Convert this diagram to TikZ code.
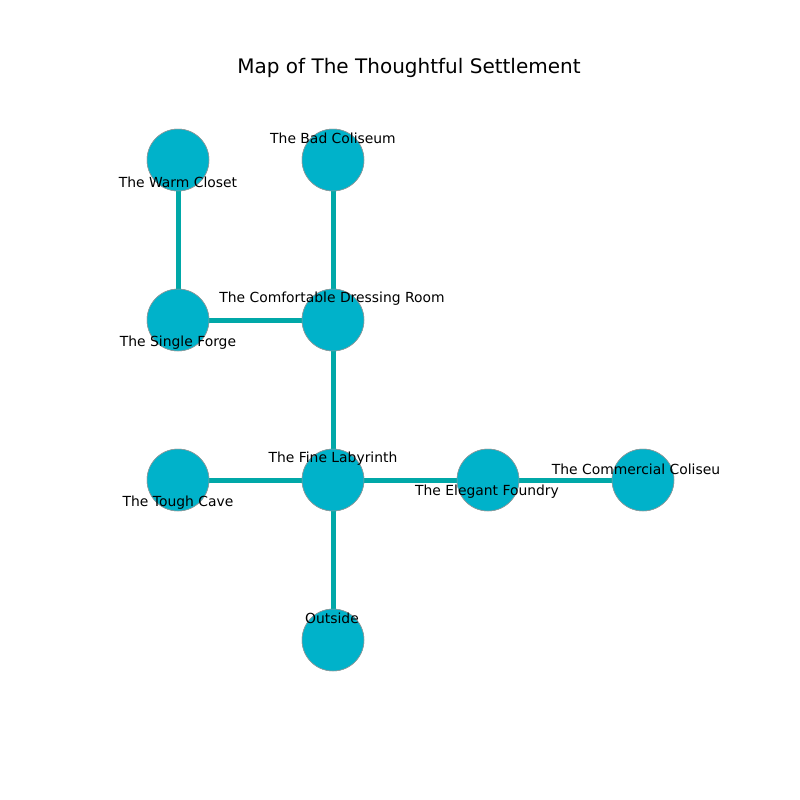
\documentclass[tikz,border=0pt]{standalone}
\usepackage{fontspec}
\setmainfont{DejaVu Sans}
\definecolor{nodefill}{HTML}{00B2CA}
\definecolor{edgecol}{HTML}{00A8A8}
\begin{document}
\begin{tikzpicture}[x=0.72pt,y=-0.72pt,
  room/.style={circle,fill=nodefill,draw=gray!80,line width=0.4pt,minimum size=44.6pt,inner sep=0pt},
  link/.style={edgecol,line width=3.6pt},
  lbl/.style={font=\fontsize{10}{12}\selectfont,inner sep=0pt,text=black},
  ttl/.style={font=\fontsize{14.4}{17}\selectfont,inner sep=0pt}]
\useasboundingbox (0,0) rectangle (800,800);
\node[ttl] (title) at (409,68) {Map of The Thoughtful Settlement};
\node[room] (wc) at (178,160) {};
\node[room] (bc) at (333,160) {};
\node[room] (sf) at (178,320) {};
\node[room] (cd) at (333,320) {};
\node[room] (tc) at (178,480) {};
\node[room] (fl) at (333,480) {};
\node[room] (ef) at (488,480) {};
\node[room] (cc) at (643,480) {};
\node[room] (out) at (333,640) {};
% edges drawn, then the rooms redrawn on top
\draw[link] (wc.center) -- (sf.center);
\draw[link] (bc.center) -- (cd.center);
\draw[link] (sf.center) -- (cd.center);
\draw[link] (cd.center) -- (fl.center);
\draw[link] (tc.center) -- (fl.center);
\draw[link] (fl.center) -- (ef.center);
\draw[link] (ef.center) -- (cc.center);
\draw[link] (fl.center) -- (out.center);
\foreach \n in {wc,bc,sf,cd,tc,fl,ef,cc,out}{
  \node[room] at (\n.center) {};
}
\node[lbl] (lwc) at (178,182.5) {The Warm Closet};
\node[lbl] (lbc) at (333,138.5) {The Bad Coliseum};
\node[lbl] (lsf) at (178,342.5) {The Single Forge};
\node[lbl] (lcd) at (332,298.5) {The Comfortable Dressing Room};
\node[lbl] (ltc) at (178,502.5) {The Tough Cave};
\node[lbl] (lfl) at (333,458.5) {The Fine Labyrinth};
\node[lbl] (lef) at (487,491.5) {The Elegant Foundry};
\node[lbl] (lcc) at (636,469.5) {The Commercial Coliseu};
\node[lbl] (lout) at (332,618.5) {Outside};
\end{tikzpicture}
\end{document}
